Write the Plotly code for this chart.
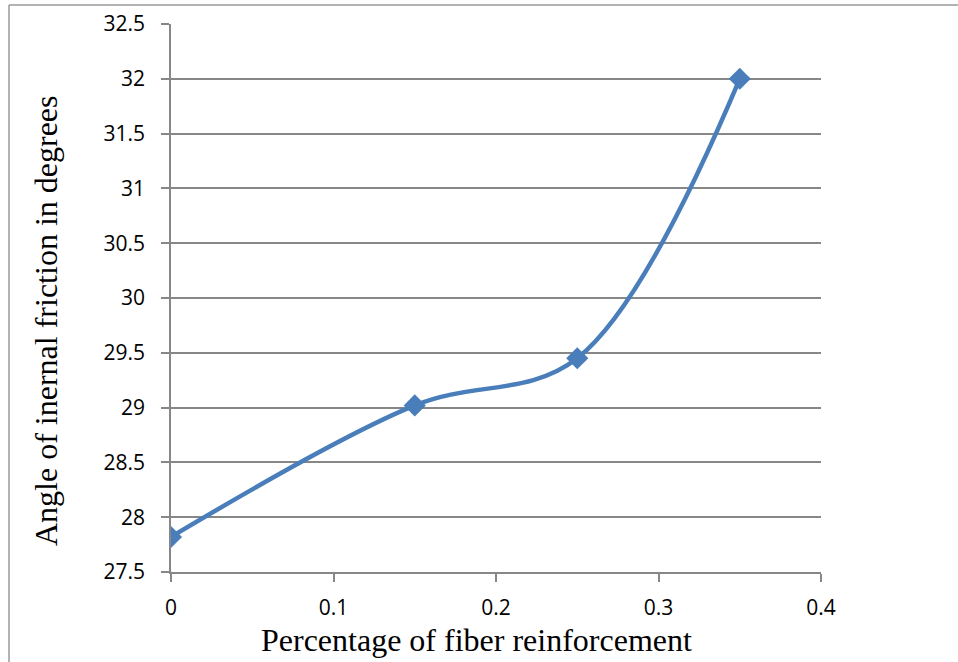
import plotly.graph_objects as go

# Fiber content (%) and measured friction angle (degrees)
fiber_pct = [0, 0.15, 0.25, 0.35]
friction_angle = [27.82, 29.02, 29.45, 32.0]

x_ticks = [0, 0.1, 0.2, 0.3, 0.4]
x_tick_text = ["0", "0.1", "0.2", "0.3", "0.4"]
y_ticks = [27.5, 28, 28.5, 29, 29.5, 30, 30.5, 31, 31.5, 32, 32.5]
y_tick_text = ["27.5", "28", "28.5", "29", "29.5", "30", "30.5", "31", "31.5", "32", "32.5"]

grid_color = "#878787"
line_color = "#4a7ebb"

fig = go.Figure()
fig.add_trace(go.Scatter(
    x=fiber_pct,
    y=friction_angle,
    mode="lines+markers",
    line=dict(color=line_color, width=4.5, shape="spline", smoothing=1.0),
    marker=dict(symbol="diamond", size=17, color=line_color),
    showlegend=False,
    hoverinfo="x+y",
))

tick_font = dict(family="Open Sans, Liberation Sans, sans-serif", size=21, color="#000000")
title_font = dict(family="Liberation Serif, Times New Roman, serif", size=32, color="#000000")

fig.update_layout(
    width=958,
    height=662,
    margin=dict(l=171, r=137, t=24, b=90),
    paper_bgcolor="#ffffff",
    plot_bgcolor="#ffffff",
    xaxis=dict(
        range=[0, 0.4],
        tickvals=x_ticks,
        ticktext=x_tick_text,
        showgrid=False,
        zeroline=False,
        showline=True,
        linecolor=grid_color,
        linewidth=1.5,
        ticks="outside",
        ticklen=8,
        tickwidth=1.5,
        tickcolor=grid_color,
        tickfont=tick_font,
        ticklabelstandoff=8,
        automargin=False,
    ),
    yaxis=dict(
        range=[27.5, 32.5],
        tickvals=y_ticks,
        ticktext=y_tick_text,
        showgrid=True,
        gridcolor=grid_color,
        gridwidth=1.5,
        zeroline=False,
        showline=True,
        linecolor=grid_color,
        linewidth=1.5,
        ticks="outside",
        ticklen=8,
        tickwidth=1.5,
        tickcolor=grid_color,
        tickfont=tick_font,
        ticklabelstandoff=12,
        automargin=False,
    ),
    annotations=[
        dict(
            text="Percentage of fiber reinforcement",
            xref="paper", yref="paper",
            x=(476 - 171) / 650, y=-(640 - 572) / 548,
            xanchor="center", yanchor="middle",
            showarrow=False, font=title_font,
        ),
        dict(
            text="Angle of inernal friction in degrees",
            xref="paper", yref="paper",
            x=-(171 - 46) / 650, y=1 - (321 - 24) / 548,
            xanchor="center", yanchor="middle",
            textangle=-90,
            showarrow=False, font=title_font,
        ),
    ],
    shapes=[
        # outer frame: left and top edges
        dict(type="line", xref="paper", yref="paper",
             x0=-(171 - 9) / 650, x1=-(171 - 9) / 650,
             y0=1 + (24 - 5) / 548, y1=-(662 - 572) / 548,
             line=dict(color="#9a9a9a", width=1.5)),
        dict(type="line", xref="paper", yref="paper",
             x0=-(171 - 9) / 650, x1=1 + (958 - 821) / 650,
             y0=1 + (24 - 5) / 548, y1=1 + (24 - 5) / 548,
             line=dict(color="#9a9a9a", width=1.5)),
    ],
)

fig.write_html("out.html")
